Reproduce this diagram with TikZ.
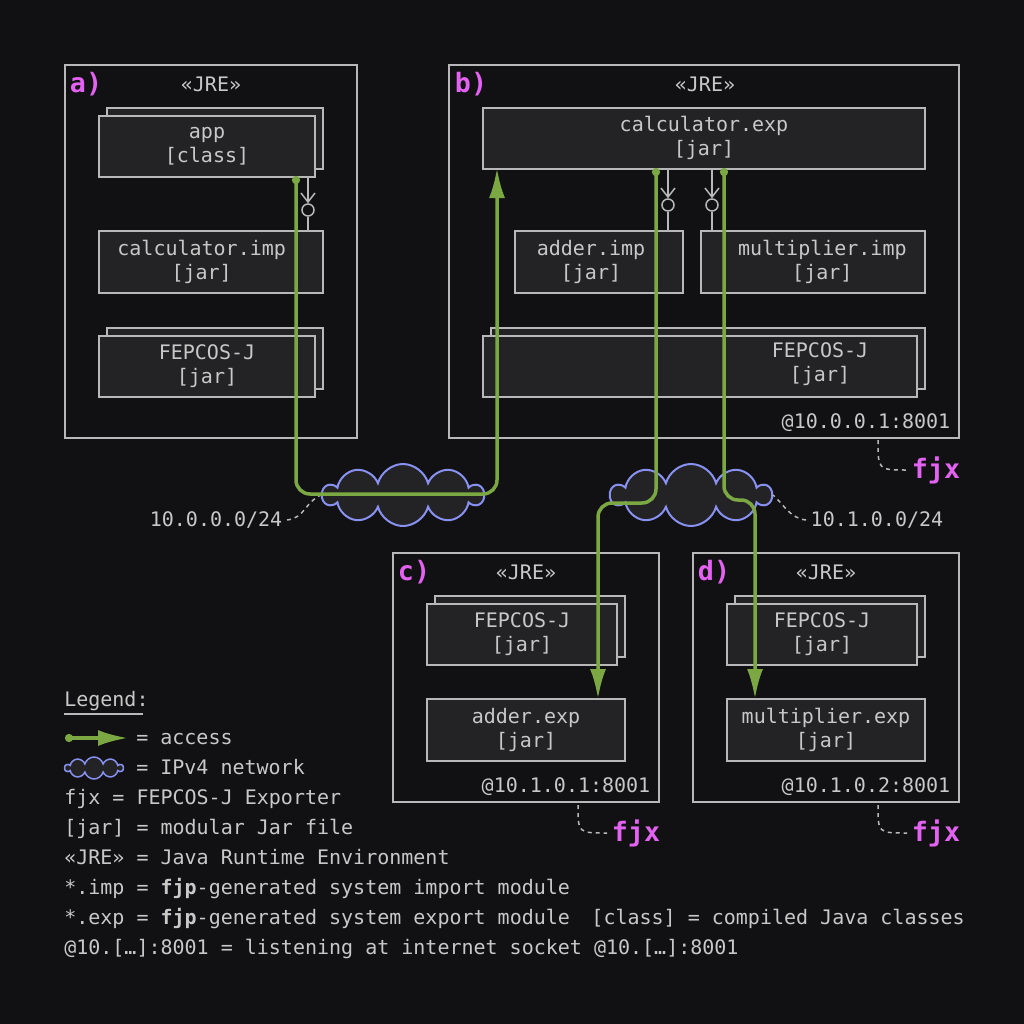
\documentclass[tikz,border=0pt]{standalone}
\usepackage{fontspec}
\setmonofont{DejaVu Sans Mono}
\usetikzlibrary{shapes.symbols,shadows,arrows.meta}
\def\px{0.75pt}
\definecolor{bg}{HTML}{111113}
\definecolor{boxfill}{HTML}{232325}
\definecolor{boxline}{HTML}{B8B8B8}
\definecolor{txt}{HTML}{C8C8C8}
\definecolor{acc}{HTML}{7BA843}
\definecolor{mag}{HTML}{E462F2}
\definecolor{net}{HTML}{8890F0}
\tikzset{
  every node/.style={font=\ttfamily\fontsize{15}{18}\selectfont, text=txt},
  frame/.style={draw=boxline, line width=2*\px},
  box/.style={draw=boxline, fill=boxfill, line width=2*\px, align=center, inner sep=0pt},
  stack/.style={box, copy shadow={shadow xshift=8*\px, shadow yshift=8*\px}},
  tag/.style={font=\ttfamily\bfseries\fontsize{20}{20}\selectfont, text=mag},
  iface/.style={draw=boxline, line width=1.5*\px},
  ball/.style={circle, draw=boxline, line width=1.5*\px, minimum size=12*\px, inner sep=0pt},
  access/.style={draw=acc, line width=3.5*\px, rounded corners=14*\px,
     {Circle[length=8*\px]}-{Latex[length=30*\px,width=16*\px]}},
  cloudy/.style={cloud, cloud puffs=10, aspect=2.7, draw=net, fill=boxfill, line width=2*\px,
     minimum width=160*\px, minimum height=62*\px},
  lead/.style={draw=boxline, dashed, line width=1.5*\px},
  leg/.style={anchor=base west, inner sep=0pt}
}
\begin{document}
\begin{tikzpicture}[x=0.75pt,y=-0.75pt]
  \useasboundingbox[fill=bg] (0,0) rectangle (1024,1024);

  % a)
  \draw[frame] (65,65) rectangle (357,438);
  \node[tag] (ta) at (86,84) {a)};
  \node (jrea) at (211,84) {«JRE»};
  \node[stack, minimum width=216*\px, minimum height=61*\px] (app) at (207,146) {app\\{}[class]};
  \node[box, minimum width=224*\px, minimum height=62*\px] (calcimp) at (211,262) {calculator.imp\hspace*{14pt}\\{}[jar]\hspace*{14pt}};
  \node[stack, minimum width=216*\px, minimum height=61*\px] (fepa) at (207,366) {FEPCOS-J\\{}[jar]};
  \node[ball] (ia) at (308,210) {};
  \draw[iface, -{Straight Barb[length=9*\px,width=14*\px]}] (ia |- app.south) -- (ia.north);
  \draw[iface] (ia.south) -- (ia |- calcimp.north);

  % b)
  \draw[frame] (449,65) rectangle (959,438);
  \node[tag] (tb) at (471,84) {b)};
  \node (jreb) at (705,84) {«JRE»};
  \node[box, minimum width=442*\px, minimum height=61*\px] (calcexp) at (704,138) {calculator.exp\\{}[jar]};
  \node[box, minimum width=168*\px, minimum height=62*\px] (addimp) at (599,262) {adder.imp\hspace*{12pt}\\{}[jar]\hspace*{12pt}};
  \node[box, minimum width=224*\px, minimum height=62*\px] (mulimp) at (813,262) {\hspace*{14pt}multiplier.imp\\\hspace*{14pt}[jar]};
  \node[stack, minimum width=434*\px, minimum height=61*\px] (fepb) at (700,366) {};
  \node[align=center] (fepbt) at (820,364) {FEPCOS-J\\{}[jar]};
  \node[ball] (ib1) at (668,205) {};
  \node[ball] (ib2) at (712,205) {};
  \foreach \i in {ib1,ib2} {
    \draw[iface, -{Straight Barb[length=9*\px,width=14*\px]}] (\i |- calcexp.south) -- (\i.north);
    \draw[iface] (\i.south) -- (\i |- mulimp.north);
  }
  \node[anchor=east] (sockb) at (955,423) {@10.0.0.1:8001};
  \node[tag] (fjxb) at (936,470) {fjx};
  \draw[lead] (878,440) .. controls (878,470) .. (fjxb.west);

  % c)
  \draw[frame] (393,553) rectangle (659,802);
  \node[tag] (tc) at (414,572) {c)};
  \node (jrec) at (526,572) {«JRE»};
  \node[stack, minimum width=190*\px, minimum height=61*\px] (fepc) at (522,634) {FEPCOS-J\\{}[jar]};
  \node[box, minimum width=198*\px, minimum height=62*\px] (addexp) at (526,730) {adder.exp\\{}[jar]};
  \node[anchor=east] (sockc) at (655,787) {@10.1.0.1:8001};
  \node[tag] (fjxc) at (636,833) {fjx};
  \draw[lead] (578,805) .. controls (578,833) .. (fjxc.west);

  % d)
  \draw[frame] (693,553) rectangle (959,802);
  \node[tag] (td) at (714,572) {d)};
  \node (jred) at (826,572) {«JRE»};
  \node[stack, minimum width=190*\px, minimum height=61*\px] (fepd) at (822,634) {FEPCOS-J\\{}[jar]};
  \node[box, minimum width=198*\px, minimum height=62*\px] (mulexp) at (826,730) {multiplier.exp\\{}[jar]};
  \node[anchor=east] (sockd) at (955,787) {@10.1.0.2:8001};
  \node[tag] (fjxd) at (936,833) {fjx};
  \draw[lead] (878,805) .. controls (878,833) .. (fjxd.west);

  % networks
  \node[cloudy] (net1) at (403,495) {};
  \node[cloudy] (net2) at (691,495) {};
  \node[anchor=east] (lnet1) at (287,520) {10.0.0.0/24};
  \node[anchor=west] (lnet2) at (806,520) {10.1.0.0/24};
  \draw[lead] (lnet1.east) .. controls (305,518) and (305,502) .. (net1.west);
  \draw[lead] (lnet2.west) .. controls (790,518) and (785,506) .. (net2.east);

  % access paths
  \coordinate (s1) at (296,176);
  \coordinate (s2) at (656,168);
  \coordinate (s3) at (724,168);
  \draw[access] (s1) -- (296,494) -- (497,494) -- ({497},{168});
  \draw[access] (s2) -- (656,503) -- (598,503) -- ({598},{699});
  \draw[access] (s3) -- (724,500) -- (755,500) -- ({755},{699});

  % legend
  \node[leg] (lg) at (64,706) {Legend:};
  \draw[boxline, line width=2*\px] (64,714) -- (143,714);
  \coordinate (la1) at (65,738);
  \coordinate (la2) at (128,738);
  \draw[access] (la1) -- (la2);
  \node[leg] (l1) at (136,744) {= access};
  \node[cloudy, minimum width=58*\px, minimum height=22*\px, line width=1.5*\px] (lc) at (94,768) {};
  \node[leg] (l2) at (136,774) {= IPv4 network};
  \node[leg] (l3) at (64,804) {fjx = FEPCOS-J Exporter};
  \node[leg] (l4) at (64,834) {[jar] = modular Jar file};
  \node[leg] (l5) at (64,864) {«JRE» = Java Runtime Environment};
  \node[leg] (l6) at (64,894) {*.imp = \textbf{fjp}-generated system import module};
  \node[leg] (l7) at (64,924) {*.exp = \textbf{fjp}-generated system export module};
  \node[anchor=base east, inner sep=0pt] (l8) at (965,924) {[class] = compiled Java classes};
  \node[leg] (l9) at (64,954) {@10.[…]:8001 = listening at internet socket @10.[…]:8001};
\end{tikzpicture}
\end{document}
